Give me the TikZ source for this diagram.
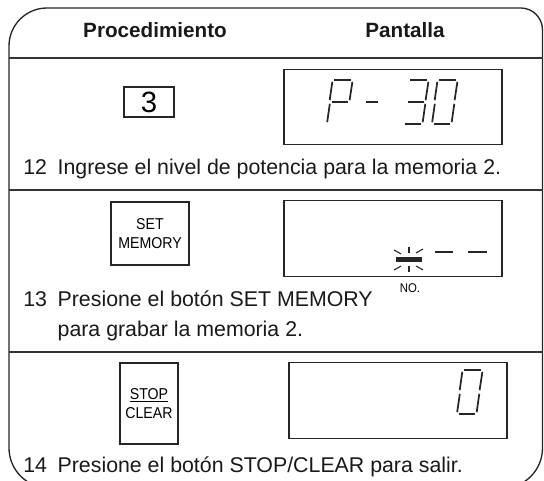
\documentclass[tikz,border=0pt]{standalone}
\usepackage{fontspec}
\setmainfont{Liberation Sans}
\newfontfamily\condfont[FakeStretch=0.9]{Liberation Sans}
\usetikzlibrary{positioning}

\begin{document}
\begin{tikzpicture}[
  x=0.75pt, y=-0.75pt,
  outline/.style={draw=black!85, line width=1pt},
  rule/.style={draw=black!80, line width=0.9pt},
  head/.style={font=\fontsize{15.5}{18}\selectfont\bfseries, text=black!90},
  instr/.style={font=\fontsize{16}{19.5}\selectfont, text=black!90,
                anchor=base west, align=left, inner sep=0pt},
  numkey/.style={draw=black!85, line width=0.8pt, inner sep=0pt,
                 minimum width=37.5pt, minimum height=22.5pt,
                 font=\fontsize{22}{22}\selectfont},
  keycap/.style={draw=black!85, line width=1.6pt, inner sep=0pt, align=center,
                 font=\condfont\fontsize{11.8}{14.5}\selectfont},
  panel/.style={draw=black!85, line width=0.8pt, inner sep=0pt,
                minimum width=163.5pt, minimum height=56.5pt},
  seg/.style={draw=black!85, line width=1.3pt},
  % seven-segment strokes, digit box 25 x 44 (slanted)
  lcda/.style={insert path={(7,0) -- (23.5,0)}},
  lcdb/.style={insert path={(25.4,1.8) -- (22.6,20.2)}},
  lcdc/.style={insert path={(22.3,23.8) -- (19.7,42.2)}},
  lcdd/.style={insert path={(1.5,44) -- (18,44)}},
  lcde/.style={insert path={(2.8,23.8) -- (0.2,42.2)}},
  lcdf/.style={insert path={(5.3,1.8) -- (2.7,20.2)}},
  lcdg/.style={insert path={(4.5,22) -- (21,22)}},
]
\useasboundingbox (0,0) rectangle (544,481);
\clip (0,0) rectangle (544,481);

% --- sheet outline and header --------------------------------------------
\draw[outline] (9,448) -- (9,46) .. controls (9,25) and (26,8) .. (47,8)
      -- (521,8) .. controls (533,8) and (542.5,18) .. (542.5,30)
      -- (542.5,448) .. controls (542.5,470) and (525,488) .. (503,488)
      -- (49,488) .. controls (27,488) and (9,470) .. (9,448);
\node[head] (hproc) at (155,30) {Procedimiento};
\node[head] (hpant) at (405,30) {Pantalla};
\draw[rule] (9,58) -- (542.5,58);
\draw[rule] (9,190) -- (542.5,190);
\draw[rule] (9,352) -- (542.5,352);

% --- step 12 --------------------------------------------------------------
\node[numkey] (key3) at (149,102) {3};
\node[panel] (disp1) at (393,107) {};
\foreach \s in {a,b,e,f,g} \draw[seg, shift={(327,80)}, lcd\s];
\draw[seg] (366,102) -- (378,102);
\foreach \s in {a,b,c,d,g} \draw[seg, shift={(403,80)}, lcd\s];
\foreach \s in {a,b,c,d,e,f} \draw[seg, shift={(432,80)}, lcd\s];
\node[instr] (t12) at (23,175)
     {12\enspace Ingrese el nivel de potencia para la memoria 2.};

% --- step 13 --------------------------------------------------------------
\node[keycap, minimum width=58.5pt, minimum height=47.25pt] (setkey)
     at (150,233.5) {SET\\MEMORY};
\node[panel] (disp2) at (393,238.5) {};
\fill[black!85] (396,257) rectangle (422,262);
\foreach \xa/\ya/\xb/\yb in {409/247/409/253, 409/266/409/272,
                             394/250/401/254, 423/249/416/253,
                             394/270/401/266, 423/270/416/266}
  \draw[draw=black!85, line width=0.8pt] (\xa,\ya) -- (\xb,\yb);
\draw[draw=black!85, line width=2.2pt] (435,252) -- (453,252);
\draw[draw=black!85, line width=2.2pt] (468,252) -- (487,252);
\node[font=\condfont\fontsize{9.5}{10}\selectfont, inner sep=0pt] (no)
     at (410,288) {NO.};
\node[instr] (t13) at (23,337)
     {13\enspace Presione el botón SET MEMORY\\[3pt]
      \phantom{13\enspace}para grabar la memoria 2.};

% --- step 14 --------------------------------------------------------------
\node[keycap, minimum width=43.5pt, minimum height=60.75pt] (stopkey)
     at (149,403.5) {\underline{STOP}\\CLEAR};
\node[panel] (disp3) at (398,400.5) {};
\foreach \s in {a,b,c,d,e,f} \draw[seg, shift={(457,370)}, lcd\s];
\node[instr] (t14) at (23,473)
     {14\enspace Presione el botón STOP/CLEAR para salir.};
\end{tikzpicture}
\end{document}
